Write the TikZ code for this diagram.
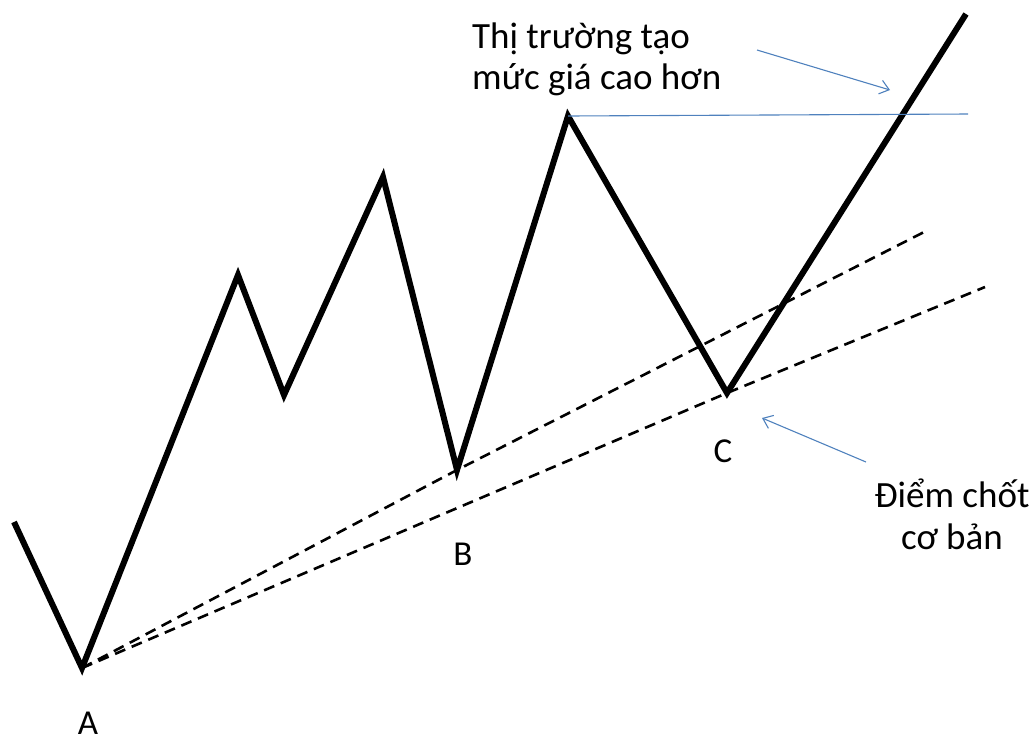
\documentclass[tikz,border=0pt]{standalone}
\usepackage{fontspec}
\setmainfont{Carlito}
\usetikzlibrary{arrows.meta}
\definecolor{ablue}{RGB}{79,129,189}
\begin{document}
\begin{tikzpicture}[x=1pt,y=-1pt,
  zig/.style={line width=6pt,line join=miter,line cap=butt},
  dline/.style={line width=2.6pt,dash pattern=on 11pt off 7pt},
  bl/.style={ablue,line width=1.1pt},
  barrow/.style={ablue,line width=1.1pt,-{Straight Barb[length=9pt,width=14pt]}},
  lbl/.style={font=\fontsize{35}{40}\selectfont,inner sep=0pt,anchor=base},
  txt/.style={font=\fontsize{37}{40}\selectfont,inner sep=0pt}]
\useasboundingbox (0,0) rectangle (1036,740);
\coordinate (s) at (14,522);
\coordinate (A) at (82,668);
\coordinate (p1) at (238,275);
\coordinate (p2) at (284,395);
\coordinate (p3) at (383,177);
\coordinate (B) at (457,470);
\coordinate (p4) at (568,116);
\coordinate (C) at (727,393);
\coordinate (e) at (966,14);
\coordinate (d1) at (928,230);
\coordinate (d2) at (985,287);
\coordinate (h) at (968,114);
\coordinate (a1s) at (757,50);
\coordinate (a1e) at (890,90);
\coordinate (a2s) at (866,462);
\coordinate (a2e) at (762,418);
\draw[dline] (A) -- (B) -- (d1);
\draw[dline] (A) -- (C) -- (d2);
\draw[zig] (s) -- (A) -- (p1) -- (p2) -- (p3) -- (B) -- (p4) -- (C) -- (e);
\draw[bl] (p4) -- (h);
\draw[barrow] (a1s) -- (a1e);
\draw[barrow] (a2s) -- (a2e);
\node[lbl] (lA) at (88,734) {A};
\node[lbl] (lB) at (463,565) {B};
\node[lbl] (lC) at (723,462) {C};
\node[txt,anchor=base west] (t1) at (472,48) {Thị trường tạo};
\node[txt,anchor=base west] (t2) at (472,89) {mức giá cao hơn};
\node[txt,anchor=base] (t3) at (952,507) {Điểm chốt};
\node[txt,anchor=base] (t4) at (952,549) {cơ bản};
\end{tikzpicture}
\end{document}
